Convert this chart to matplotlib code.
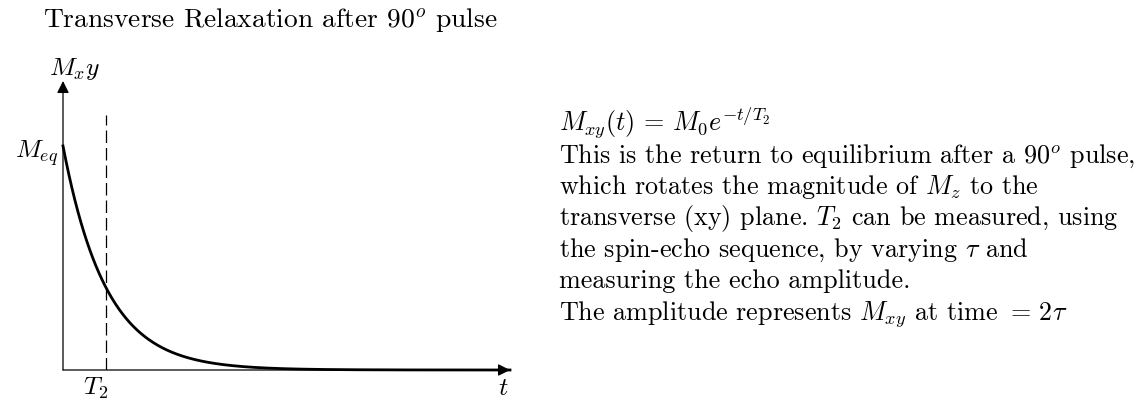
import numpy as np
import matplotlib
matplotlib.use("Agg")
import matplotlib.pyplot as plt

plt.rcParams["font.family"] = "cmr10"
plt.rcParams["mathtext.fontset"] = "cm"
plt.rcParams["axes.formatter.use_mathtext"] = True

W, H = 1143, 402

# Decay parameters (time measured in units of T2)
M_eq = 1.0
T2 = 1.0
t_max = 10.4
y_max = 1.29
t = np.linspace(0, t_max, 600)
M_xy = M_eq * np.exp(-t / T2)

notes = [
    r"$M_{xy}(t)\,=\,M_0 e^{-t/T_2}$",
    r"This is the return to equilibrium after a 90$^o$ pulse,",
    r"which rotates the magnitude of $M_z$ to the",
    r"transverse (xy) plane. $T_2$ can be measured, using",
    r"the spin-echo sequence, by varying $\tau$ and",
    r"measuring the echo amplitude.",
    r"The amplitude represents $M_{xy}$ at time $=\,2\tau$",
]


def px(x, y):
    # pixel position (from top-left) to figure fraction
    return x / W, 1 - y / H


fig = plt.figure(figsize=(W / 100, H / 100), dpi=100)
ax = fig.add_axes([63 / W, 31 / H, 447 / W, 289 / H])
ax.set_xlim(0, t_max)
ax.set_ylim(0, y_max)
ax.axis("off")

ax.plot(t, M_xy, color="black", lw=2.0, clip_on=False)
ax.plot([T2, T2], [0, 1.14], color="black", lw=0.9,
        linestyle=(0, (10, 4)))

arrow = dict(arrowstyle="-|>", color="black", lw=0.9,
             mutation_scale=18, shrinkA=0, shrinkB=0)
ax.annotate("", xy=(0, y_max), xytext=(0, 0), arrowprops=arrow,
            annotation_clip=False)
ax.annotate("", xy=(t_max, 0), xytext=(0, 0), arrowprops=arrow,
            annotation_clip=False)

fig.text(*px(43, 28), r"Transverse Relaxation after 90$^o$ pulse",
         fontsize=19.8, va="baseline")

fs = 18.5
fig.text(*px(75, 75), r"$M_x y$", fontsize=fs, ha="center", va="baseline")
fig.text(*px(58, 158), r"$M_{eq}$", fontsize=fs, ha="right", va="baseline")
fig.text(*px(96, 395), r"$T_2$", fontsize=fs, ha="center", va="baseline")
fig.text(*px(503, 395), r"$t$", fontsize=fs, ha="center", va="baseline")

baselines = [131, 162.5, 194, 225.5, 257, 288.5, 320]
for line, yb in zip(notes, baselines):
    fig.text(*px(559, yb), line, fontsize=18.8, va="baseline")

fig.savefig("out.png", dpi=100)
